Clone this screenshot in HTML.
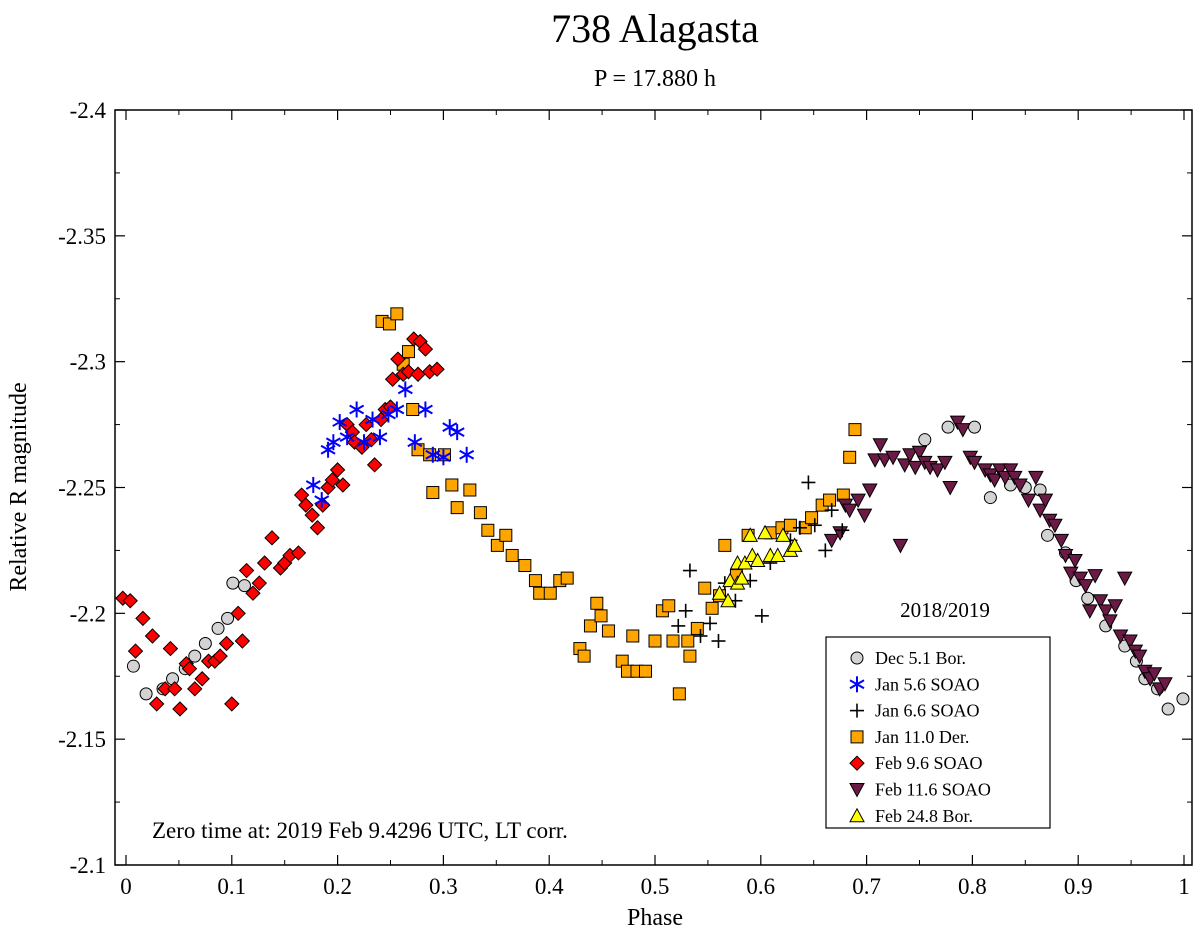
<!DOCTYPE html>
<html><head><meta charset="utf-8"><style>
html,body{margin:0;padding:0;background:#fff}
svg{display:block;font-family:"Liberation Serif",serif}
</style></head><body>
<svg id="chart" width="1200" height="935" viewBox="0 0 1200 935">
<text x="655" y="42" font-size="40" text-anchor="middle">738 Alagasta</text>
<text x="655" y="86" font-size="24" text-anchor="middle">P = 17.880 h</text>
<rect x="115" y="110" width="1077" height="755" fill="none" stroke="#000" stroke-width="1.5"/>
<g id="ticks"></g>
<g id="marks"></g>
<text x="26" y="487" font-size="24" text-anchor="middle" transform="rotate(-90 26 487)">Relative R magnitude</text>
<text x="655" y="925" font-size="24" text-anchor="middle">Phase</text>
<text x="152" y="838" font-size="23">Zero time at: 2019 Feb 9.4296 UTC, LT corr.</text>
<text x="945" y="617" font-size="21" text-anchor="middle">2018/2019</text>
<rect x="826" y="637" width="224" height="191" fill="#fff" stroke="#000" stroke-width="1.2"/>
<g id="legend"></g>
</svg>
<script>
const xTicks=[0,0.1,0.2,0.3,0.4,0.5,0.6,0.7,0.8,0.9,1];
const xTickLabels=["0","0.1","0.2","0.3","0.4","0.5","0.6","0.7","0.8","0.9","1"];
const yTicks=[-2.4,-2.35,-2.3,-2.25,-2.2,-2.15,-2.1];
const yTickLabels=["-2.4","-2.35","-2.3","-2.25","-2.2","-2.15","-2.1"];
const seriesNames=["Dec 5.1 Bor.","Jan 5.6 SOAO","Jan 6.6 SOAO","Jan 11.0 Der.","Feb 9.6 SOAO","Feb 11.6 SOAO","Feb 24.8 Bor."];
const dec5=[[0.007,-2.179],[0.019,-2.168],[0.035,-2.170],[0.044,-2.174],[0.056,-2.178],[0.065,-2.183],[0.075,-2.188],[0.087,-2.194],[0.096,-2.198],[0.101,-2.212],[0.112,-2.211],[0.755,-2.269],[0.777,-2.274],[0.802,-2.274],[0.817,-2.246],[0.836,-2.251],[0.850,-2.250],[0.864,-2.249],[0.871,-2.231],[0.888,-2.224],[0.898,-2.213],[0.909,-2.206],[0.926,-2.195],[0.944,-2.187],[0.955,-2.181],[0.963,-2.174],[0.975,-2.170],[0.985,-2.162],[0.999,-2.166]];
const jan5=[[0.177,-2.251],[0.185,-2.245],[0.191,-2.265],[0.196,-2.268],[0.202,-2.276],[0.209,-2.270],[0.218,-2.281],[0.225,-2.268],[0.233,-2.277],[0.240,-2.270],[0.248,-2.279],[0.256,-2.281],[0.264,-2.289],[0.273,-2.268],[0.283,-2.281],[0.290,-2.263],[0.300,-2.262],[0.306,-2.274],[0.313,-2.272],[0.322,-2.263]];
const jan6=[[0.522,-2.195],[0.529,-2.201],[0.533,-2.217],[0.543,-2.191],[0.552,-2.196],[0.560,-2.189],[0.566,-2.212],[0.576,-2.205],[0.590,-2.213],[0.601,-2.199],[0.609,-2.220],[0.628,-2.229],[0.637,-2.234],[0.645,-2.252],[0.651,-2.235],[0.661,-2.225],[0.667,-2.241],[0.677,-2.233]];
const jan11=[[0.242,-2.316],[0.249,-2.315],[0.256,-2.319],[0.262,-2.299],[0.267,-2.304],[0.271,-2.281],[0.276,-2.265],[0.287,-2.263],[0.290,-2.248],[0.301,-2.263],[0.308,-2.251],[0.313,-2.242],[0.325,-2.249],[0.335,-2.240],[0.342,-2.233],[0.351,-2.227],[0.359,-2.231],[0.365,-2.223],[0.377,-2.219],[0.387,-2.213],[0.391,-2.208],[0.401,-2.208],[0.410,-2.213],[0.417,-2.214],[0.429,-2.186],[0.433,-2.183],[0.439,-2.195],[0.445,-2.204],[0.449,-2.199],[0.456,-2.193],[0.469,-2.181],[0.474,-2.177],[0.479,-2.191],[0.483,-2.177],[0.491,-2.177],[0.500,-2.189],[0.507,-2.201],[0.513,-2.203],[0.517,-2.189],[0.523,-2.168],[0.531,-2.189],[0.533,-2.183],[0.540,-2.194],[0.547,-2.210],[0.554,-2.202],[0.561,-2.207],[0.566,-2.227],[0.577,-2.215],[0.588,-2.231],[0.609,-2.232],[0.620,-2.234],[0.628,-2.235],[0.642,-2.234],[0.648,-2.238],[0.658,-2.243],[0.665,-2.245],[0.678,-2.247],[0.684,-2.262],[0.689,-2.273]];
const feb9=[[-0.003,-2.206],[0.004,-2.205],[0.009,-2.185],[0.016,-2.198],[0.025,-2.191],[0.029,-2.164],[0.037,-2.170],[0.042,-2.186],[0.046,-2.170],[0.051,-2.162],[0.057,-2.180],[0.060,-2.178],[0.065,-2.170],[0.072,-2.174],[0.078,-2.181],[0.084,-2.181],[0.089,-2.183],[0.095,-2.188],[0.100,-2.164],[0.106,-2.200],[0.110,-2.189],[0.114,-2.217],[0.120,-2.208],[0.126,-2.212],[0.131,-2.220],[0.138,-2.230],[0.146,-2.218],[0.150,-2.220],[0.155,-2.223],[0.163,-2.224],[0.166,-2.247],[0.170,-2.243],[0.176,-2.239],[0.181,-2.234],[0.186,-2.243],[0.191,-2.250],[0.195,-2.253],[0.200,-2.257],[0.205,-2.251],[0.209,-2.275],[0.214,-2.272],[0.216,-2.268],[0.223,-2.266],[0.227,-2.275],[0.232,-2.269],[0.235,-2.259],[0.241,-2.277],[0.245,-2.281],[0.250,-2.282],[0.252,-2.293],[0.257,-2.301],[0.262,-2.295],[0.267,-2.296],[0.272,-2.309],[0.276,-2.295],[0.278,-2.308],[0.283,-2.305],[0.287,-2.296],[0.294,-2.297]];
const feb11=[[0.667,-2.229],[0.675,-2.232],[0.680,-2.243],[0.684,-2.241],[0.692,-2.245],[0.698,-2.239],[0.703,-2.249],[0.708,-2.261],[0.713,-2.267],[0.717,-2.261],[0.725,-2.262],[0.732,-2.227],[0.736,-2.259],[0.741,-2.263],[0.746,-2.258],[0.750,-2.264],[0.755,-2.260],[0.760,-2.258],[0.767,-2.257],[0.774,-2.260],[0.779,-2.250],[0.786,-2.276],[0.791,-2.273],[0.798,-2.262],[0.802,-2.260],[0.812,-2.257],[0.817,-2.255],[0.821,-2.253],[0.826,-2.257],[0.831,-2.254],[0.836,-2.257],[0.840,-2.254],[0.845,-2.251],[0.853,-2.245],[0.860,-2.254],[0.864,-2.241],[0.869,-2.245],[0.873,-2.237],[0.878,-2.235],[0.884,-2.229],[0.888,-2.223],[0.893,-2.216],[0.897,-2.221],[0.902,-2.214],[0.907,-2.211],[0.911,-2.201],[0.916,-2.215],[0.921,-2.205],[0.926,-2.201],[0.930,-2.197],[0.935,-2.203],[0.940,-2.191],[0.944,-2.214],[0.949,-2.189],[0.954,-2.185],[0.958,-2.183],[0.963,-2.177],[0.968,-2.174],[0.972,-2.176],[0.977,-2.170],[0.982,-2.172]];
const feb24=[[0.561,-2.208],[0.569,-2.205],[0.571,-2.213],[0.578,-2.212],[0.582,-2.214],[0.578,-2.220],[0.585,-2.220],[0.590,-2.231],[0.592,-2.223],[0.597,-2.221],[0.604,-2.232],[0.609,-2.223],[0.616,-2.223],[0.621,-2.231],[0.628,-2.225],[0.632,-2.227]];

const NS="http://www.w3.org/2000/svg";
const X0=126,X1=1184,Y0=110,Y1=865;
function xs(v){return X0+(X1-X0)*v;}
function ys(v){return Y0+(Y1-Y0)*(v+2.4)/0.3;}
function mk(tag,attrs,parent){const e=document.createElementNS(NS,tag);for(const k in attrs)e.setAttribute(k,attrs[k]);parent.appendChild(e);return e;}
const tg=document.getElementById('ticks');
xTicks.forEach((t,i)=>{
  const x=xs(t);
  mk('line',{x1:x,x2:x,y1:865,y2:855,stroke:'#000','stroke-width':1.2},tg);
  mk('line',{x1:x,x2:x,y1:110,y2:120,stroke:'#000','stroke-width':1.2},tg);
  if(i<xTicks.length-1){const xm=xs(t+0.05);
    mk('line',{x1:xm,x2:xm,y1:865,y2:860,stroke:'#000','stroke-width':1},tg);
    mk('line',{x1:xm,x2:xm,y1:110,y2:115,stroke:'#000','stroke-width':1},tg);}
  const tx=mk('text',{x:x,y:894,'font-size':23,'text-anchor':'middle'},tg);
  
  
  tx.textContent=xTickLabels[i];
});
yTicks.forEach((t,i)=>{
  const y=ys(t);
  mk('line',{x1:115,x2:125,y1:y,y2:y,stroke:'#000','stroke-width':1.2},tg);
  mk('line',{x1:1192,x2:1182,y1:y,y2:y,stroke:'#000','stroke-width':1.2},tg);
  if(i<yTicks.length-1){const ym=ys(t+0.025);
    mk('line',{x1:115,x2:120,y1:ym,y2:ym,stroke:'#000','stroke-width':1},tg);
    mk('line',{x1:1192,x2:1187,y1:ym,y2:ym,stroke:'#000','stroke-width':1},tg);}
  const tx=mk('text',{x:106,y:y+8,'font-size':23,'text-anchor':'end'},tg);
  
  
  tx.textContent=yTickLabels[i];
});
function marker(type,x,y,parent){
  let e;
  if(type===0)e=mk('circle',{cx:x,cy:y,r:6,fill:'#d3d3d3',stroke:'#000','stroke-width':1},parent);
  else if(type===1){e=mk('g',{stroke:'#0000ff','stroke-width':2},parent);
    [[0,8],[7,4],[7,-4]].forEach(d=>mk('line',{x1:x-d[0],y1:y-d[1],x2:x+d[0],y2:y+d[1]},e));}
  else if(type===2){e=mk('g',{stroke:'#000','stroke-width':1.6},parent);
    mk('line',{x1:x-7,y1:y,x2:x+7,y2:y},e);mk('line',{x1:x,y1:y-7,x2:x,y2:y+7},e);}
  else if(type===3)e=mk('rect',{x:x-6,y:y-6,width:12,height:12,fill:'#ffa500',stroke:'#000','stroke-width':1},parent);
  else if(type===4)e=mk('polygon',{points:`${x},${y-7} ${x+7},${y} ${x},${y+7} ${x-7},${y}`,fill:'#ff0000',stroke:'#000','stroke-width':1},parent);
  else if(type===5)e=mk('polygon',{points:`${x-7},${y-6} ${x+7},${y-6} ${x},${y+7}`,fill:'#6b1a45',stroke:'#000','stroke-width':1},parent);
  else e=mk('polygon',{points:`${x-7},${y+6} ${x+7},${y+6} ${x},${y-7}`,fill:'#ffff00',stroke:'#000','stroke-width':1},parent);
  return e;
}
const mg=document.getElementById('marks');
const order=[[dec5,0],[jan11,3],[feb9,4],[jan5,1],[feb11,5],[jan6,2],[feb24,6]];
order.forEach(([arr,t])=>{
  arr.forEach(p=>{
    const e=marker(t,xs(p[0]),ys(p[1]),mg);
    
    
  });
});
const lg=document.getElementById('legend');
seriesNames.forEach((n,i)=>{
  const y=658+i*26.3;
  const g=mk('g',{},lg);
  
  
  marker(i,857,y,g);
  const tx=mk('text',{x:875,y:y+6,'font-size':18},g);
  tx.textContent=n;
});
</script>
</body></html>
